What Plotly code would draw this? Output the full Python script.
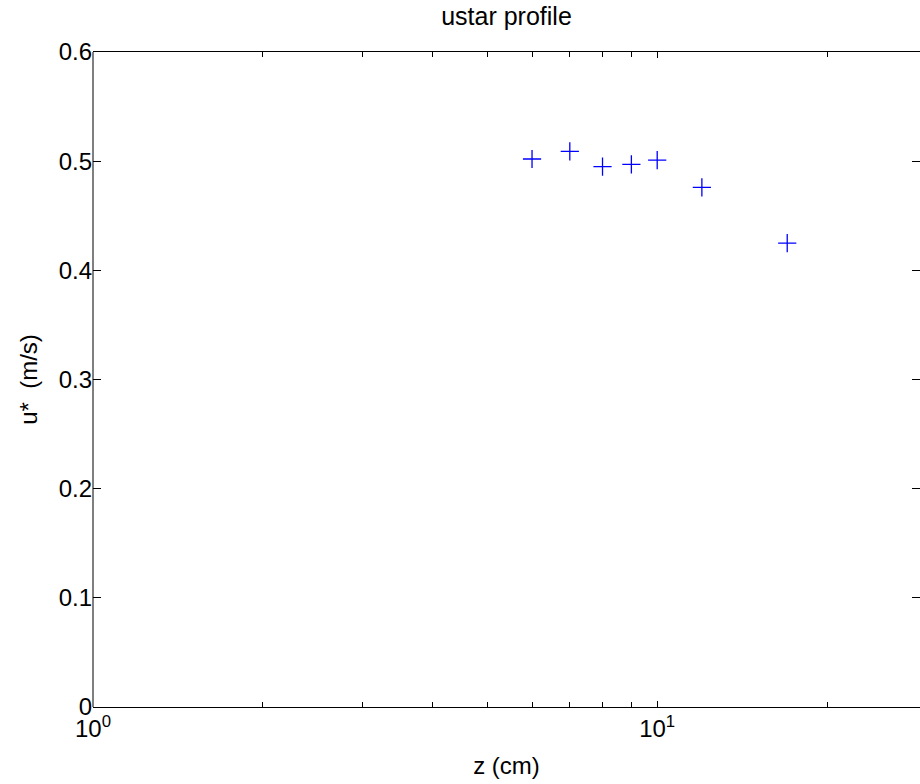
import plotly.graph_objects as go

z_cm = [6, 7, 8, 9, 10, 12, 17]
ustar = [0.502, 0.509, 0.495, 0.497, 0.501, 0.476, 0.425]

x_major_vals = [1, 10]
x_major_text = ["10<sup>0</sup>", "10<sup>1</sup>"]
x_minor_vals = [2, 3, 4, 5, 6, 7, 8, 9, 20]
y_tick_vals = [0, 0.1, 0.2, 0.3, 0.4, 0.5, 0.6]
y_tick_text = ["0", "0.1", "0.2", "0.3", "0.4", "0.5", "0.6"]

FONT = "Liberation Sans, Arial, sans-serif"

fig = go.Figure()
fig.add_trace(go.Scatter(
    x=z_cm, y=ustar, mode="markers",
    marker=dict(symbol="cross-thin", size=13, color="blue",
                line=dict(color="blue", width=1.3)),
    showlegend=False,
))

fig.update_layout(
    width=920, height=784,
    margin=dict(l=93, r=0, t=52, b=77),
    paper_bgcolor="white", plot_bgcolor="white",
    font=dict(family=FONT, size=24, color="black"),
    title=dict(text="ustar profile", x=0.5, xref="paper", xanchor="center",
               y=1 - 16 / 784, yref="container", yanchor="middle",
               font=dict(family=FONT, size=25, color="black")),
    shapes=[dict(type="line", xref="paper", yref="paper", x0=0, x1=0, y0=0, y1=1,
                 line=dict(color="black", width=1))],
)

fig.update_xaxes(
    type="log", range=[0, 1.4658],
    tickvals=x_major_vals, ticktext=x_major_text,
    ticks="inside", ticklen=6, tickwidth=1, tickcolor="black",
    minor=dict(tickvals=x_minor_vals, ticks="inside", ticklen=5, tickwidth=1, tickcolor="black"),
    showline=True, linecolor="black", linewidth=1, mirror="ticks",
    showgrid=False, zeroline=False,
    tickfont=dict(family=FONT, size=24, color="black"),
    title=dict(text="z (cm)", standoff=16, font=dict(family=FONT, size=24, color="black")),
)
fig.update_yaxes(
    range=[0, 0.6],
    tickvals=y_tick_vals, ticktext=y_tick_text,
    ticks="inside", ticklen=8, tickwidth=1, tickcolor="black",
    showline=False, mirror="ticks",
    showgrid=False, zeroline=False,
    tickfont=dict(family=FONT, size=24, color="black"),
    title=dict(text="u*  (m/s)", standoff=14, font=dict(family=FONT, size=24, color="black")),
)

fig.write_html("out.html")
